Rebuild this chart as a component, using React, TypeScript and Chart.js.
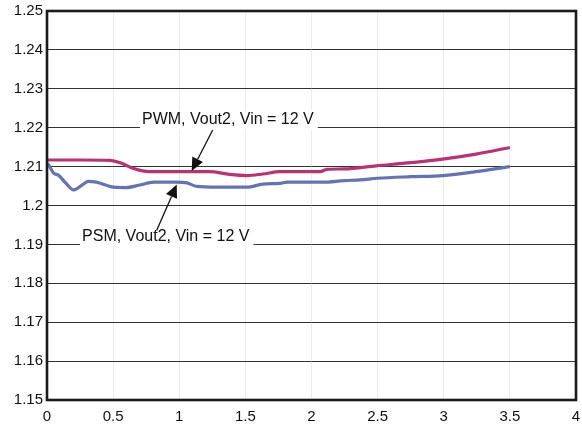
import React, { useEffect, useRef } from "react";
import { Chart, registerables } from "chart.js";

Chart.register(...registerables);

const pwmX = [0, 0.272, 0.474, 0.554, 0.655, 0.776, 0.977, 1.229, 1.38, 1.511, 1.632, 1.763, 2.065, 2.116, 2.247, 2.489, 2.751, 2.992, 3.244, 3.5];
const pwmY = [1.2117, 1.2117, 1.2116, 1.211, 1.2095, 1.2087, 1.2087, 1.2087, 1.208, 1.2077, 1.2081, 1.2087, 1.2087, 1.2093, 1.2094, 1.2102, 1.211, 1.2119, 1.2132, 1.2149];

const psmX = [0, 0.01, 0.05, 0.086, 0.141, 0.202, 0.262, 0.312, 0.373, 0.504, 0.595, 0.695, 0.806, 0.977, 1.058, 1.133, 1.28, 1.511, 1.632, 1.763, 1.814, 2.086, 2.247, 2.368, 2.499, 2.751, 2.992, 3.244, 3.5];
const psmY = [1.2107, 1.2105, 1.2083, 1.2078, 1.2058, 1.204, 1.2052, 1.2062, 1.206, 1.2047, 1.2046, 1.2052, 1.206, 1.206, 1.2058, 1.2049, 1.2047, 1.2047, 1.2055, 1.2057, 1.206, 1.206, 1.2064, 1.2066, 1.207, 1.2074, 1.2077, 1.2087, 1.21];

const seriesNames = ["PWM, Vout2, Vin = 12 V", "PSM, Vout2, Vin = 12 V"];
const seriesColors = ["#b8336f", "#6473b3"];

// Annotation anchors in data units: label left x, gridline y, arrow from, arrow to
const labelPos = [
  { x: 0.718, y: 1.22, from: [1.253, 1.2194], to: [1.094, 1.2089] },
  { x: 0.265, y: 1.19, from: [0.829, 1.1936], to: [0.981, 1.2054] },
];

const xMin = 0, xMax = 4, xStep = 0.5;
const yMin = 1.15, yMax = 1.25, yStep = 0.01;

const FONT = "'Liberation Sans', Arial, sans-serif";

const annotationPlugin = {
  id: "annots",
  beforeDatasetsDraw(chart: any) {
    const ctx = chart.ctx;
    const xs = chart.scales.x, ys = chart.scales.y;
    ctx.save();
    ctx.font = `16px ${FONT}`;
    labelPos.forEach((p, i) => {
      const px = xs.getPixelForValue(p.x);
      const py = ys.getPixelForValue(p.y);
      const w = ctx.measureText(seriesNames[i]).width;
      ctx.fillStyle = "#ffffff";
      ctx.fillRect(px - 2, py - 17, w + 6, 19);
      ctx.fillStyle = "#111";
      ctx.textBaseline = "alphabetic";
      ctx.textAlign = "left";
      ctx.fillText(seriesNames[i], px, py - 3.5);
    });
    ctx.restore();
  },
  afterDatasetsDraw(chart: any) {
    const ctx = chart.ctx;
    const xs = chart.scales.x, ys = chart.scales.y;
    ctx.save();
    labelPos.forEach((p) => {
      const x1 = xs.getPixelForValue(p.from[0]);
      const y1 = ys.getPixelForValue(p.from[1]);
      const x2 = xs.getPixelForValue(p.to[0]);
      const y2 = ys.getPixelForValue(p.to[1]);
      const ang = Math.atan2(y2 - y1, x2 - x1);
      const hl = 13, hw = 6;
      const bx = x2 - hl * Math.cos(ang), by = y2 - hl * Math.sin(ang);
      ctx.strokeStyle = "#111";
      ctx.lineWidth = 1.3;
      ctx.beginPath();
      ctx.moveTo(x1, y1);
      ctx.lineTo(bx, by);
      ctx.stroke();
      ctx.fillStyle = "#111";
      ctx.beginPath();
      ctx.moveTo(x2, y2);
      ctx.lineTo(bx + hw * Math.sin(ang), by - hw * Math.cos(ang));
      ctx.lineTo(bx - hw * Math.sin(ang), by + hw * Math.cos(ang));
      ctx.closePath();
      ctx.fill();
    });
    const a = chart.chartArea;
    ctx.strokeStyle = "#1a1a1a";
    ctx.lineWidth = 2.6;
    ctx.strokeRect(a.left, a.top, a.right - a.left, a.bottom - a.top);
    ctx.restore();
  },
};

export default function App() {
  const ref = useRef<HTMLCanvasElement | null>(null);
  useEffect(() => {
    if (!ref.current) return;
    const chart = new Chart(ref.current, {
      type: "line",
      data: {
        datasets: [
          {
            label: seriesNames[0],
            data: pwmX.map((x, i) => ({ x, y: pwmY[i] })),
            borderColor: seriesColors[0],
            borderWidth: 3.2,
            pointRadius: 0,
            cubicInterpolationMode: "monotone",
            fill: false,
          },
          {
            label: seriesNames[1],
            data: psmX.map((x, i) => ({ x, y: psmY[i] })),
            borderColor: seriesColors[1],
            borderWidth: 3.2,
            pointRadius: 0,
            cubicInterpolationMode: "monotone",
            fill: false,
          },
        ],
      },
      options: {
        animation: false,
        responsive: false,
        devicePixelRatio: 1,
        layout: { padding: { left: 0, right: 6, top: 11, bottom: 0 } },
        plugins: { legend: { display: false }, tooltip: { enabled: false } },
        scales: {
          x: {
            type: "linear",
            min: xMin,
            max: xMax,
            afterFit: (s: any) => { s.height = 35; s.paddingRight = 0; s.paddingLeft = 0; },
            ticks: {
              stepSize: xStep,
              padding: 8,
              color: "#111",
              font: { family: FONT, size: 15 },
              maxRotation: 0,
              callback: (v: any) => String(Number(Number(v).toFixed(2))),
            },
            grid: { color: "#ececec", lineWidth: 1, drawTicks: false },
            border: { display: false },
          },
          y: {
            type: "linear",
            min: yMin,
            max: yMax,
            afterFit: (s: any) => { s.width = 47; s.paddingTop = 0; s.paddingBottom = 0; },
            ticks: {
              stepSize: yStep,
              padding: 4,
              color: "#111",
              font: { family: FONT, size: 15 },
              callback: (v: any) => String(Number(Number(v).toFixed(2))),
            },
            grid: { color: "#333", lineWidth: 1, drawTicks: false },
            border: { display: false },
          },
        },
      },
      plugins: [annotationPlugin],
    } as any);
    return () => chart.destroy();
  }, []);
  return (
    <div style={{ position: "absolute", left: 0, top: 0, width: 582, height: 435, background: "#fff" }}>
      <canvas ref={ref} width={582} height={435} />
    </div>
  );
}
